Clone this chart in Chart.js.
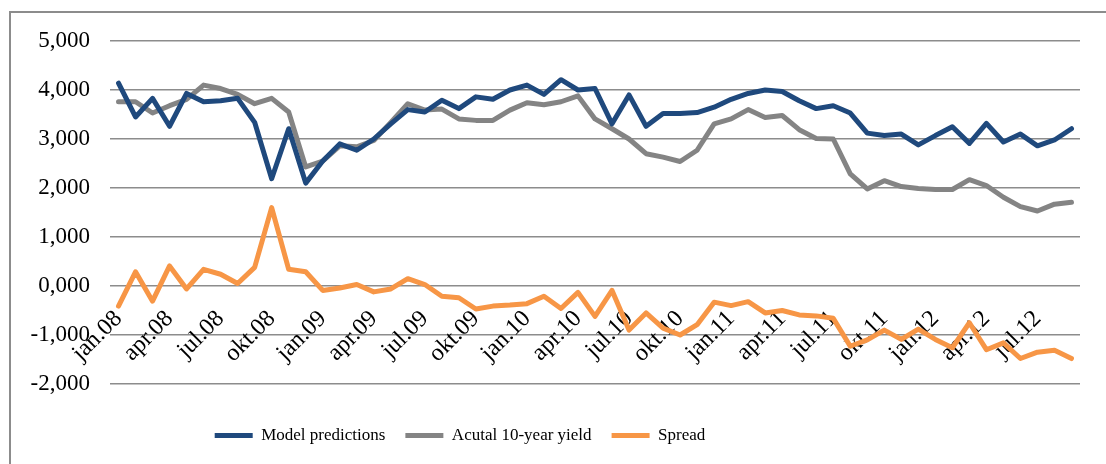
<!DOCTYPE html>
<html lang="en">

<head>
    <meta charset="UTF-8">
    <title>Model predictions vs actual 10-year yield</title>
    <script src="https://cdn.jsdelivr.net/npm/chart.js"></script>
    <style>
        body { margin: 0; background: #fff; }
        .wrap { position: relative; width: 1106px; height: 464px; overflow: hidden; }
        /* grey frame round the chart, open to the right and bottom like the original */
        .frame { position: absolute; left: 9px; top: 11px; width: 1120px; height: 480px; border: 2px solid #8c8c8c; }
        canvas { position: absolute; left: 0; top: 0; }
    </style>
</head>

<body>
    <div class="wrap">
        <div class="frame"></div>
        <canvas id="grafico" width="1106" height="464"></canvas>
    </div>

    <script>
        // months, jan.08 .. sep.12
        const months = [
            'jan.08', 'feb.08', 'mar.08', 'apr.08', 'mai.08', 'jun.08', 'jul.08', 'aug.08', 'sep.08', 'okt.08', 'nov.08', 'des.08',
            'jan.09', 'feb.09', 'mar.09', 'apr.09', 'mai.09', 'jun.09', 'jul.09', 'aug.09', 'sep.09', 'okt.09', 'nov.09', 'des.09',
            'jan.10', 'feb.10', 'mar.10', 'apr.10', 'mai.10', 'jun.10', 'jul.10', 'aug.10', 'sep.10', 'okt.10', 'nov.10', 'des.10',
            'jan.11', 'feb.11', 'mar.11', 'apr.11', 'mai.11', 'jun.11', 'jul.11', 'aug.11', 'sep.11', 'okt.11', 'nov.11', 'des.11',
            'jan.12', 'feb.12', 'mar.12', 'apr.12', 'mai.12', 'jun.12', 'jul.12', 'aug.12', 'sep.12'
        ];

        const modelPredictions = [
            4.14, 3.45, 3.83, 3.26, 3.93, 3.76, 3.78, 3.83, 3.34, 2.19,
            3.21, 2.10, 2.55, 2.90, 2.77, 3.00, 3.31, 3.60, 3.55, 3.79,
            3.62, 3.86, 3.81, 4.00, 4.10, 3.91, 4.21, 4.00, 4.03, 3.31,
            3.90, 3.26, 3.52, 3.52, 3.54, 3.65, 3.81, 3.93, 4.00, 3.97,
            3.78, 3.62, 3.68, 3.53, 3.12, 3.07, 3.10, 2.88, 3.07, 3.25,
            2.91, 3.32, 2.94, 3.10, 2.86, 2.98, 3.21
        ];

        const actualYield = [
            3.76, 3.76, 3.53, 3.68, 3.81, 4.10, 4.03, 3.91, 3.72, 3.83,
            3.55, 2.43, 2.55, 2.86, 2.84, 2.97, 3.34, 3.72, 3.59, 3.61,
            3.41, 3.38, 3.38, 3.59, 3.74, 3.70, 3.76, 3.88, 3.41, 3.21,
            3.00, 2.70, 2.63, 2.54, 2.77, 3.31, 3.41, 3.60, 3.44, 3.48,
            3.19, 3.01, 3.00, 2.29, 1.98, 2.15, 2.03, 1.99, 1.97, 1.97,
            2.17, 2.05, 1.81, 1.62, 1.53, 1.67, 1.71
        ];

        const spread = [
            -0.41, 0.29, -0.31, 0.41, -0.06, 0.34, 0.24, 0.05, 0.38, 1.60,
            0.34, 0.29, -0.09, -0.04, 0.03, -0.12, -0.06, 0.15, 0.03, -0.21,
            -0.24, -0.47, -0.41, -0.39, -0.36, -0.21, -0.46, -0.13, -0.62, -0.09,
            -0.90, -0.55, -0.86, -1.00, -0.79, -0.33, -0.40, -0.32, -0.55, -0.50,
            -0.59, -0.61, -0.66, -1.23, -1.10, -0.90, -1.09, -0.88, -1.09, -1.26,
            -0.75, -1.30, -1.16, -1.48, -1.35, -1.31, -1.48
        ];

        const seriesNames = ['Model predictions', 'Acutal 10-year yield', 'Spread'];
        const seriesColors = ['#1f497d', '#848484', '#f79646'];

        const yMin = -2;
        const yMax = 5;
        const labelEvery = 3; // one label per quarter

        const serif = 'Liberation Serif, Times New Roman, serif';

        function lineSet(name, values, color) {
            return {
                label: name,
                data: values,
                borderColor: color,
                backgroundColor: color,
                borderWidth: 5,
                pointRadius: 0,
                tension: 0,
                borderJoinStyle: 'round',
                borderCapStyle: 'round'
            };
        }

        // the legend in the original sits left of centre
        const shiftLegend = {
            id: 'shiftLegend',
            afterLayout(c) {
                c.legend.left -= 80;
                c.legend.right -= 80;
            }
        };

        const ctx = document.getElementById('grafico').getContext('2d');
        const chart = new Chart(ctx, {
            type: 'line',
            data: {
                labels: months,
                datasets: [
                    lineSet(seriesNames[0], modelPredictions, seriesColors[0]),
                    lineSet(seriesNames[1], actualYield, seriesColors[1]),
                    lineSet(seriesNames[2], spread, seriesColors[2])
                ]
            },
            plugins: [shiftLegend],
            options: {
                responsive: false,
                animation: false,
                layout: { padding: { top: 41, right: 26, bottom: 10, left: 0 } },
                scales: {
                    x: {
                        type: 'category',
                        position: { y: 0 }, // category axis crosses at zero
                        offset: true,
                        grid: { display: false },
                        border: { display: false },
                        ticks: {
                            autoSkip: false,
                            minRotation: 45,
                            maxRotation: 45,
                            padding: 11,
                            color: '#000',
                            font: { family: serif, size: 24 },
                            callback: (value, index) => index % labelEvery === 0 ? months[index] : ''
                        }
                    },
                    // empty axis that only keeps a gap between plot and legend
                    gap: {
                        type: 'category',
                        axis: 'x',
                        position: 'bottom',
                        grid: { display: false },
                        border: { display: false },
                        ticks: { display: false },
                        afterFit: (scale) => { scale.height = 23; }
                    },
                    y: {
                        min: yMin,
                        max: yMax,
                        grid: { color: '#8c8c8c', lineWidth: 1.5, drawTicks: false },
                        border: { display: false },
                        ticks: {
                            stepSize: 1,
                            padding: 20,
                            color: '#000',
                            font: { family: serif, size: 23 },
                            callback: (value) => value.toFixed(3).replace('.', ',')
                        },
                        afterFit: (scale) => { scale.width = 110; }
                    }
                },
                plugins: {
                    tooltip: { enabled: false },
                    legend: {
                        position: 'bottom',
                        labels: {
                            boxWidth: 38,
                            boxHeight: 5,
                            padding: 20,
                            color: '#000',
                            font: { family: serif, size: 17 },
                            generateLabels: (c) => {
                                const items = Chart.defaults.plugins.legend.labels.generateLabels(c);
                                items.forEach((it) => { it.lineWidth = 0; it.fillStyle = it.strokeStyle; });
                                return items;
                            }
                        }
                    }
                }
            }
        });
    </script>
</body>

</html>
